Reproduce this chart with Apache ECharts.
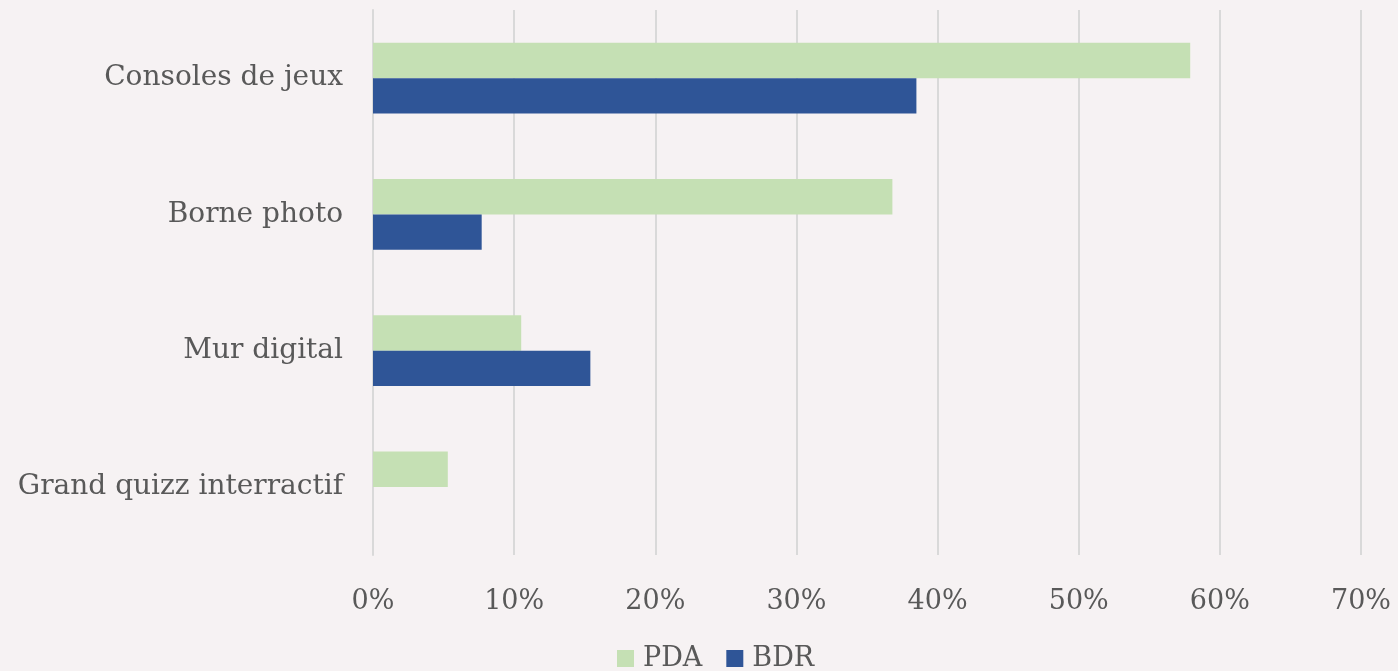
<!DOCTYPE html>
<html>
<head>
<meta charset="utf-8">
<script src="https://cdn.jsdelivr.net/npm/echarts@6/dist/echarts.min.js"></script>
<style>
html,body{margin:0;padding:0;background:#f6f2f3;}
#chart{width:1398px;height:671px;}
</style>
</head>
<body>
<div id="chart"></div>
<script>
const categories = ['Consoles de jeux', 'Borne photo', 'Mur digital', 'Grand quizz interractif'];
const pdaValues = [57.9, 36.8, 10.5, 5.3];
const bdrValues = [38.5, 7.7, 15.4, 0];
const seriesNames = ['PDA', 'BDR'];
const xTicks = [0, 10, 20, 30, 40, 50, 60, 70];

const FONT = '"DejaVu Serif", serif';
const chart = echarts.init(document.getElementById('chart'), null, {renderer: 'canvas'});
chart.setOption({
  backgroundColor: '#f6f2f3',
  animation: false,
  textStyle: {fontFamily: FONT, color: '#595959'},
  grid: {left: 373, right: 37, top: 10, bottom: 116, containLabel: false},
  legend: {
    data: seriesNames,
    bottom: -6,
    left: 612,
    itemWidth: 17,
    itemHeight: 17,
    itemGap: 24,
    icon: 'rect',
    textStyle: {fontFamily: FONT, fontSize: 27, color: '#595959', padding: [0, 0, 0, 4]}
  },
  xAxis: {
    type: 'value',
    min: xTicks[0],
    max: xTicks[xTicks.length - 1],
    interval: 10,
    axisLine: {show: false},
    axisTick: {show: false},
    splitLine: {show: true, lineStyle: {color: '#d9d9d9', width: 2}},
    axisLabel: {
      formatter: v => v + '%',
      fontFamily: FONT, fontSize: 27, color: '#595959', margin: 33
    }
  },
  yAxis: {
    type: 'category',
    data: categories,
    inverse: true,
    axisLine: {show: true, lineStyle: {color: '#d9d9d9', width: 2}},
    axisTick: {show: false},
    axisLabel: {fontFamily: FONT, fontSize: 28, color: '#595959', margin: 30}
  },
  series: [
    {
      name: seriesNames[0], type: 'bar', data: pdaValues,
      itemStyle: {color: '#c5e0b4'},
      barGap: '0%', barCategoryGap: '47.9%'
    },
    {
      name: seriesNames[1], type: 'bar', data: bdrValues,
      itemStyle: {color: '#2f5597'},
      barGap: '0%', barCategoryGap: '47.9%'
    }
  ]
});
</script>
</body>
</html>
